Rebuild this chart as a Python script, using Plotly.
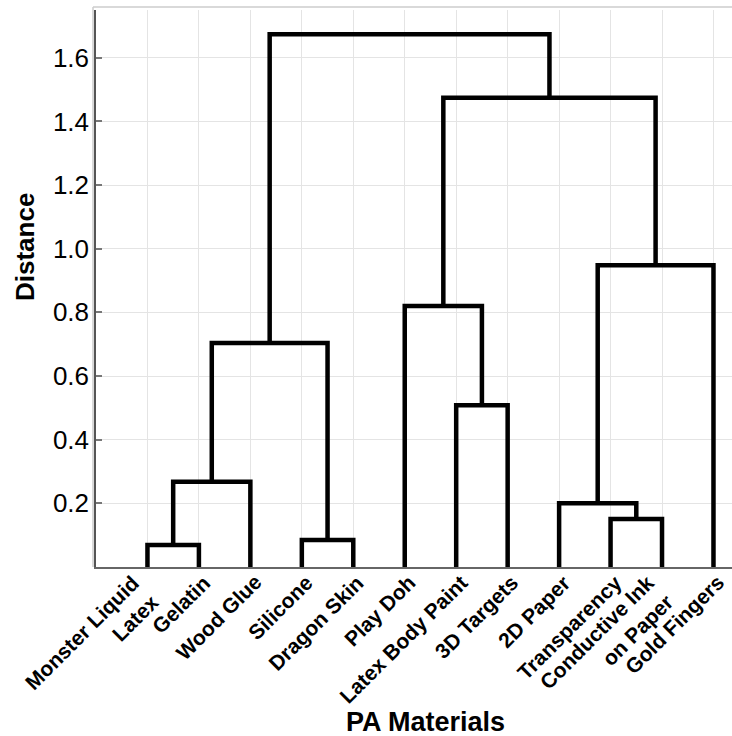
import plotly.graph_objects as go

# Leaf labels in dendrogram order
materials = [
    "Monster Liquid<br>Latex", "Gelatin", "Wood Glue", "Silicone", "Dragon Skin",
    "Play Doh", "Latex Body Paint", "3D Targets", "2D Paper", "Transparency",
    "Conductive Ink<br>on Paper", "Gold Fingers",
]

# Linkage: each merge joins two nodes (leaves 0..11, then merges 12, 13, ...)
merge_left = [0, 12, 3, 13, 6, 5, 9, 8, 19, 17, 15]
merge_right = [1, 2, 4, 14, 7, 16, 10, 18, 11, 20, 21]
merge_height = [0.069, 0.268, 0.085, 0.704, 0.508, 0.820, 0.151, 0.200, 0.948, 1.474, 1.674]

y_ticks = [0.2, 0.4, 0.6, 0.8, 1.0, 1.2, 1.4, 1.6]

# Node positions: leaves at 1..n, merged nodes at the midpoint of their children
n = len(materials)
leaf_pos = list(range(1, n + 1))
node_x = {i: float(leaf_pos[i]) for i in range(n)}
node_h = {i: 0.0 for i in range(n)}
xs, ys = [], []
for k, (a, b, h) in enumerate(zip(merge_left, merge_right, merge_height)):
    xa, xb = node_x[a], node_x[b]
    xs += [xa, xa, xb, xb, None]
    ys += [node_h[a], h, h, node_h[b], None]
    node_x[n + k] = (xa + xb) / 2
    node_h[n + k] = h

fig = go.Figure()
fig.add_trace(go.Scatter(
    x=xs, y=ys, mode="lines",
    line=dict(color="black", width=4.5),
    hoverinfo="skip", showlegend=False,
))

W, H = 732, 736
ml, mr, mt, mb = 96, 0, 10, 169
pw, ph = W - ml - mr, H - mt - mb

# Rotated leaf labels, right-aligned, anchored by the top-right of their box
label_annotations = [
    dict(text=f"<b>{m}</b>", x=p, y=0, xref="x", yref="paper",
         textangle=-45, xanchor="right", yanchor="top", align="right",
         xshift=18, yshift=-1, showarrow=False,
         font=dict(size=21, color="black"))
    for p, m in zip(leaf_pos, materials)
]

fig.update_layout(
    width=W, height=H,
    margin=dict(l=ml, r=mr, t=mt, b=mb, pad=0),
    paper_bgcolor="white", plot_bgcolor="white",
    font=dict(family="Liberation Sans, Arial, sans-serif", color="black"),
    xaxis=dict(
        range=[0, 12.36],
        tickmode="array",
        tickvals=leaf_pos,
        showticklabels=False,
        showgrid=True, gridcolor="#e4e4e4", gridwidth=1,
        showline=True, linecolor="#666666", linewidth=1.5,
        ticks="", zeroline=False,
    ),
    yaxis=dict(
        range=[0, 1.75],
        tickmode="array",
        tickvals=y_ticks,
        ticktext=[f"{v:.1f}" for v in y_ticks],
        tickfont=dict(size=26, color="black"),
        showgrid=True, gridcolor="#e4e4e4", gridwidth=1,
        showline=True, linecolor="#555555", linewidth=1.5,
        ticks="inside", ticklen=6, tickcolor="#777777", tickwidth=1.5,
        zeroline=False,
    ),
    shapes=[
        dict(type="line", xref="paper", yref="paper",
             x0=-3 / pw, x1=1, y0=1 + 3 / ph, y1=1 + 3 / ph,
             line=dict(color="#cccccc", width=1.5)),
        dict(type="line", xref="paper", yref="paper",
             x0=-3 / pw, x1=-3 / pw, y0=0, y1=1 + 3 / ph,
             line=dict(color="#cccccc", width=1.5)),
    ],
    annotations=label_annotations + [
        dict(text="<b>PA Materials</b>", xref="paper", yref="paper",
             x=(425 - ml) / pw, y=(H - mb - 722) / ph,
             xanchor="center", yanchor="middle", showarrow=False,
             font=dict(size=27, color="black")),
        dict(text="<b>Distance</b>", xref="paper", yref="paper",
             x=(25 - ml) / pw, y=(H - mb - 247) / ph, textangle=-90,
             xanchor="center", yanchor="middle", showarrow=False,
             font=dict(size=26, color="black")),
    ],
)

fig.write_html("out.html")
